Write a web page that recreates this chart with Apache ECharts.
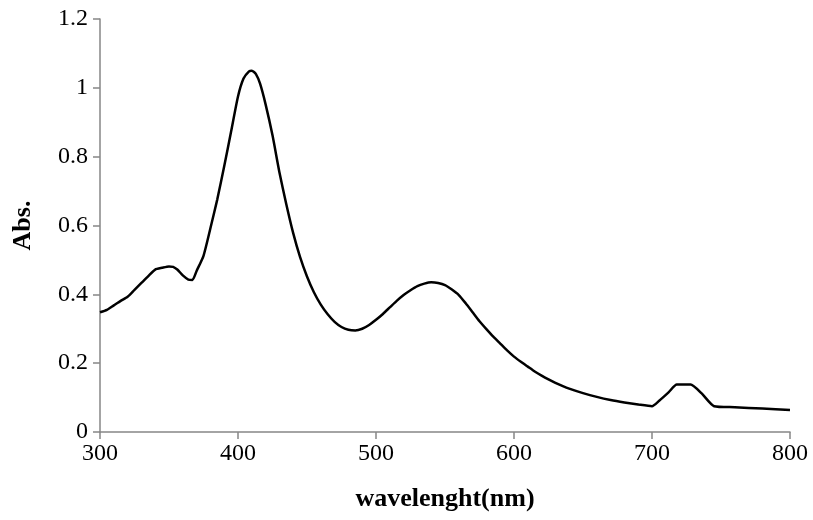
<!DOCTYPE html>
<html>
<head>
<meta charset="utf-8">
<script src="https://cdn.jsdelivr.net/npm/echarts@6/dist/echarts.min.js"></script>
<style>
  html, body { margin: 0; padding: 0; background: #fff; }
  #chart { width: 813px; height: 520px; }
</style>
</head>
<body>
<div id="chart"></div>
<script>
// ── Spectrum data ──
const wavelengths = [
  300, 305, 310, 315, 320, 325, 330, 335, 340, 345, 350, 353, 356, 360, 364, 367,
  370, 375, 380, 385, 390, 395, 400, 404, 408, 410, 413, 416, 420, 425, 430, 435,
  440, 445, 450, 455, 460, 465, 470, 475, 480, 485, 490, 495, 500, 505, 510, 515,
  520, 525, 530, 535, 540, 545, 550, 555, 560, 565, 570, 575, 580, 585, 590, 595,
  600, 605, 610, 615, 620, 625, 630, 635, 640, 650, 660, 670, 680, 690, 700, 705,
  712, 718, 728, 736, 745, 760, 780, 800
];
const absorbance = [
  0.348, 0.355, 0.368, 0.381, 0.393, 0.413, 0.433, 0.453, 0.472, 0.477, 0.481, 0.480, 0.472, 0.455, 0.443, 0.442,
  0.468, 0.512, 0.592, 0.676, 0.772, 0.873, 0.975, 1.027, 1.048, 1.050, 1.040, 1.012, 0.952, 0.862, 0.755, 0.662,
  0.578, 0.508, 0.452, 0.406, 0.370, 0.342, 0.320, 0.305, 0.297, 0.295, 0.300, 0.311, 0.326, 0.343, 0.362, 0.381,
  0.398, 0.412, 0.424, 0.431, 0.435, 0.433, 0.427, 0.414, 0.398, 0.374, 0.348, 0.322, 0.299, 0.277, 0.257, 0.237,
  0.219, 0.204, 0.190, 0.176, 0.164, 0.153, 0.143, 0.134, 0.126, 0.113, 0.102, 0.093, 0.086, 0.080, 0.075, 0.090,
  0.115, 0.138, 0.138, 0.112, 0.075, 0.072, 0.068, 0.064
];

const xTicks = { min: 300, max: 800, step: 100 };
const yTicks = { min: 0, max: 1.2, step: 0.2 };

const SERIF = '"Liberation Serif", "Times New Roman", serif';
const AXIS_GREY = '#868686';

const chart = echarts.init(document.getElementById('chart'), null, { renderer: 'canvas' });

chart.setOption({
  animation: false,
  backgroundColor: '#ffffff',
  grid: { left: 100, right: 23, top: 19, bottom: 88, containLabel: false, outerBoundsMode: 'none' },
  xAxis: {
    type: 'value',
    min: xTicks.min, max: xTicks.max, interval: xTicks.step,
    name: 'wavelenght(nm)',
    nameLocation: 'middle',
    nameGap: 54,
    nameTextStyle: { color: '#000', fontFamily: SERIF, fontSize: 26, fontWeight: 'bold' },
    axisLine: { show: true, lineStyle: { color: AXIS_GREY, width: 1.5 } },
    axisTick: { show: true, inside: false, length: 7, lineStyle: { color: AXIS_GREY, width: 1.5 } },
    axisLabel: { color: '#000', fontFamily: SERIF, fontSize: 24, margin: 10 },
    splitLine: { show: false }
  },
  yAxis: {
    type: 'value',
    min: yTicks.min, max: yTicks.max, interval: yTicks.step,
    name: 'Abs.',
    nameLocation: 'middle',
    nameGap: 64,
    nameTextStyle: { color: '#000', fontFamily: SERIF, fontSize: 26, fontWeight: 'bold' },
    axisLine: { show: true, lineStyle: { color: AXIS_GREY, width: 1.5 } },
    axisTick: { show: true, inside: false, length: 7, lineStyle: { color: AXIS_GREY, width: 1.5 } },
    axisLabel: { color: '#000', fontFamily: SERIF, fontSize: 24, margin: 12 },
    splitLine: { show: false }
  },
  series: [
    {
      type: 'line',
      data: wavelengths.map((w, i) => [w, absorbance[i]]),
      showSymbol: false,
      smooth: 0.2,
      lineStyle: { color: '#000', width: 2.5, join: 'round' }
    }
  ]
});
</script>
</body>
</html>
